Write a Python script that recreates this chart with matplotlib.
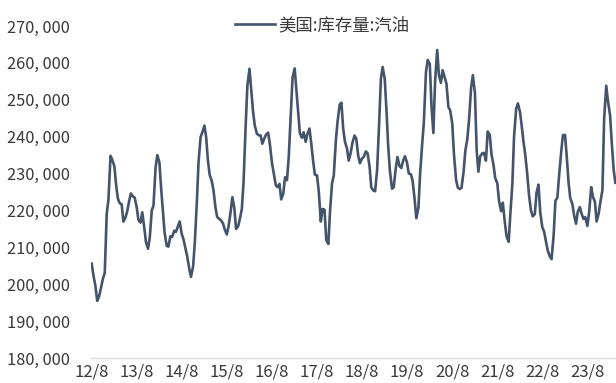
import matplotlib
matplotlib.use("Agg")
import matplotlib.pyplot as plt
import pandas as pd

plt.rcParams['font.family'] = ['Noto Sans CJK SC', 'DejaVu Sans']

series_name = "美国:库存量:汽油"
start_date = "2012-08-01"

# semi-monthly readings of US gasoline inventory (thousand barrels)
values = [
    205600, 202500, 199400, 195500, 196800, 199000, 201600, 203000, 219000, 223000,
    234800, 233700, 232000, 227000, 223300, 222000, 221700, 217000, 218000, 219600,
    222600, 224600, 223800, 223500, 220900, 217400, 216700, 219500, 215400, 211400,
    209600, 212700, 220000, 221300, 231600, 235000, 233000, 226000, 220000, 214000,
    210400, 210200, 213000, 212800, 214500, 214200, 215700, 217000, 213600, 212200,
    209500, 207400, 204200, 202000, 204800, 211300, 222000, 233000, 239900, 241200,
    243000, 239800, 233600, 229700, 228000, 225500, 220900, 218200, 217700, 217300,
    216500, 214900, 213500, 215600, 219600, 223600, 220700, 215000, 215700, 217700,
    220400, 227800, 243000, 253900, 258400, 252600, 246700, 243000, 240800, 240400,
    240300, 238100, 239600, 240600, 241100, 238000, 232900, 230200, 226900, 226300,
    227200, 223000, 224600, 229000, 228200, 234500, 246300, 256000, 258500, 252700,
    247100, 241000, 239700, 241200, 238600, 240700, 242200, 238300, 233300, 229700,
    229500, 225300, 217000, 220400, 220200, 212000, 210900, 220000, 227400, 229500,
    239000, 244200, 248700, 249200, 242300, 238700, 236800, 233500, 235600, 238300,
    240300, 239500, 234800, 232800, 234100, 234500, 236000, 235500, 231900, 226200,
    225400, 225200, 230900, 241600, 255800, 258900, 255600, 247200, 237400, 230700,
    225900, 226300, 231400, 234500, 232000, 231500, 233600, 234700, 232900, 230000,
    229800, 228000, 223100, 217900, 220800, 230200, 237800, 243900, 257500, 260800,
    259700, 248200, 241000, 255000, 263500, 256700, 254600, 258000, 256000, 254400,
    248000, 247200, 243600, 235200, 228300, 226200, 225800, 226100, 230500, 236200,
    239300, 244500, 253300, 256700, 251800, 236200, 230500, 234600, 235500, 235600,
    233500, 241400, 240500, 235200, 232400, 228800, 227400, 222600, 219800, 222100,
    216800, 213000, 211500, 219100, 227100, 240100, 247600, 249000, 246700, 242900,
    238700, 235300, 229800, 224200, 220000, 218400, 219000, 224800, 227000, 219500,
    215400, 214300, 211300, 209000, 207500, 206800, 213500, 222600, 223500, 229500,
    235900, 240400, 240500, 234600, 227800, 223400, 221800, 218800, 216400, 219600,
    220900, 219100, 217700, 218200, 215800, 219400, 226300, 223700, 222400, 217000,
    219200, 222400, 225500, 245000, 253800, 249600, 245800, 238200, 231000, 227500,
]

tick_dates = ["2012-08-01", "2013-08-01", "2014-08-01", "2015-08-01", "2016-08-01",
              "2017-08-01", "2018-08-01", "2019-08-01", "2020-08-01", "2021-08-01",
              "2022-08-01", "2023-08-01"]
tick_labels = ["12/8", "13/8", "14/8", "15/8", "16/8", "17/8", "18/8", "19/8",
               "20/8", "21/8", "22/8", "23/8"]
y_ticks = [180000, 190000, 200000, 210000, 220000, 230000, 240000, 250000, 260000, 270000]

dates = pd.date_range(start_date, periods=len(values), freq="SMS")

line_color = "#44546A"
text_color = "#3a3a3a"

fig = plt.figure(figsize=(6.16, 3.83), dpi=100)
ax = fig.add_axes([0.148, 0.0653, 0.852, 0.8668])

ax.plot(dates, values, color=line_color, lw=1.9, label=series_name, solid_joinstyle="round")

ax.set_xlim(pd.Timestamp("2012-07-28"), pd.Timestamp("2024-03-20"))
ax.set_ylim(y_ticks[0], y_ticks[-1])

ax.set_yticks(y_ticks)
ax.set_yticklabels([f"{v:,}".replace(",", ", ") for v in y_ticks])
ax.set_xticks(pd.to_datetime(tick_dates))
ax.set_xticklabels(tick_labels)

ax.tick_params(axis="y", length=0, pad=60.5, labelsize=11.8, labelcolor=text_color)
ax.tick_params(axis="x", length=0, pad=4, labelsize=12, labelcolor=text_color)
for lab in ax.get_yticklabels():
    lab.set_horizontalalignment("left")

for s in ["left", "right", "top"]:
    ax.spines[s].set_visible(False)
ax.spines["bottom"].set_color("#d9d9d9")
ax.spines["bottom"].set_linewidth(1.0)

fig.legend(loc="center", bbox_to_anchor=(0.523, 0.935), frameon=False,
           fontsize=12.5, handlelength=2.3, handletextpad=0.2, labelcolor=text_color)

fig.savefig("out.png", dpi=100)
